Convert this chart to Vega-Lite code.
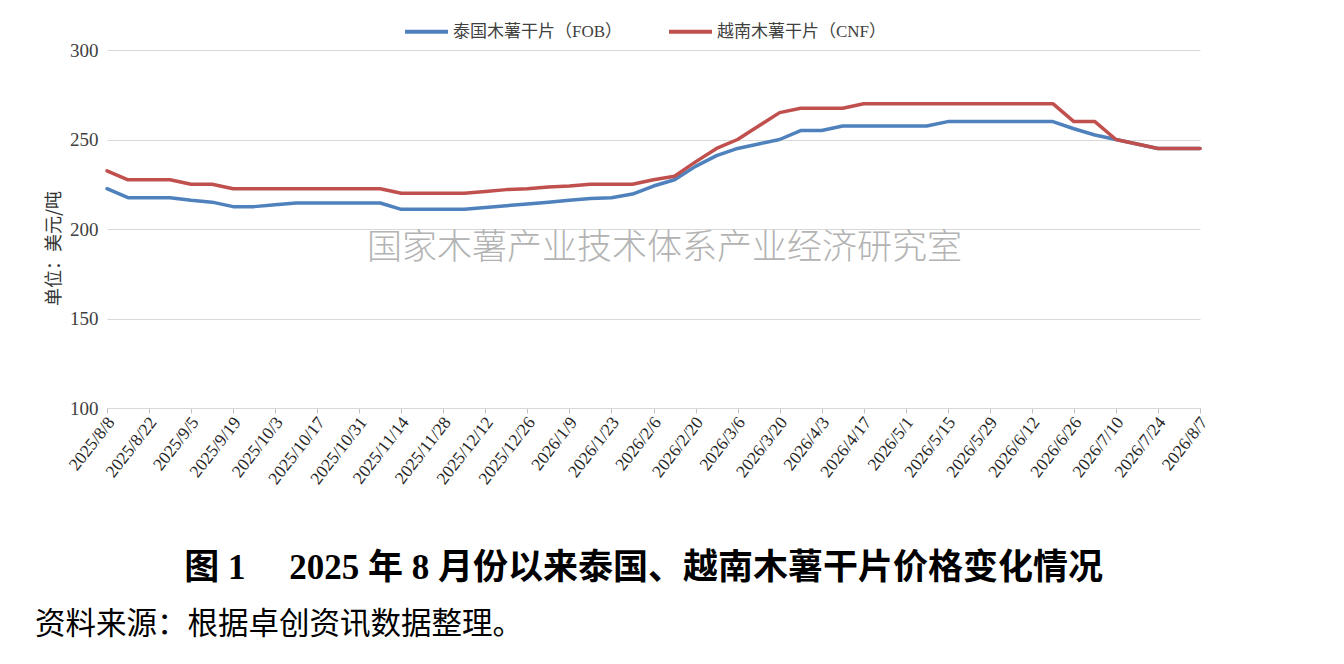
{
  "$schema": "https://vega.github.io/schema/vega-lite/v6.json",
  "width": 1093,
  "height": 358,
  "autosize": {"type": "none"},
  "padding": {"left": 107, "top": 50, "right": 144, "bottom": 256},
  "background": "white",
  "config": {
    "view": {"stroke": null},
    "font": "'Liberation Serif', 'Noto Sans CJK SC'"
  },
  "title": {
    "text": "资料来源：根据卓创资讯数据整理。",
    "orient": "bottom",
    "anchor": "start",
    "frame": "group",
    "dx": -72,
    "offset": 25,
    "baseline": "top",
    "font": "'Liberation Serif', 'Noto Sans CJK SC'",
    "fontSize": 30.5,
    "fontWeight": "normal",
    "color": "#000000"
  },
  "data": {
    "values": [
      {"date": "2025/8/8", "thai": 222.5, "vietnam": 232.5},
      {"date": "2025/8/15", "thai": 217.5, "vietnam": 227.5},
      {"date": "2025/8/22", "thai": 217.5, "vietnam": 227.5},
      {"date": "2025/8/29", "thai": 217.5, "vietnam": 227.5},
      {"date": "2025/9/5", "thai": 216, "vietnam": 225},
      {"date": "2025/9/12", "thai": 215, "vietnam": 225},
      {"date": "2025/9/19", "thai": 212.5, "vietnam": 222.5},
      {"date": "2025/9/26", "thai": 212.5, "vietnam": 222.5},
      {"date": "2025/10/3", "thai": 213.5, "vietnam": 222.5},
      {"date": "2025/10/10", "thai": 214.5, "vietnam": 222.5},
      {"date": "2025/10/17", "thai": 214.5, "vietnam": 222.5},
      {"date": "2025/10/24", "thai": 214.5, "vietnam": 222.5},
      {"date": "2025/10/31", "thai": 214.5, "vietnam": 222.5},
      {"date": "2025/11/7", "thai": 214.5, "vietnam": 222.5},
      {"date": "2025/11/14", "thai": 211, "vietnam": 220},
      {"date": "2025/11/21", "thai": 211, "vietnam": 220},
      {"date": "2025/11/28", "thai": 211, "vietnam": 220},
      {"date": "2025/12/5", "thai": 211, "vietnam": 220},
      {"date": "2025/12/12", "thai": 212, "vietnam": 221},
      {"date": "2025/12/19", "thai": 213, "vietnam": 222},
      {"date": "2025/12/26", "thai": 214, "vietnam": 222.5},
      {"date": "2026/1/2", "thai": 215, "vietnam": 223.5},
      {"date": "2026/1/9", "thai": 216, "vietnam": 224},
      {"date": "2026/1/16", "thai": 217, "vietnam": 225},
      {"date": "2026/1/23", "thai": 217.5, "vietnam": 225},
      {"date": "2026/1/30", "thai": 219.5, "vietnam": 225},
      {"date": "2026/2/6", "thai": 224, "vietnam": 227.5},
      {"date": "2026/2/13", "thai": 227.5, "vietnam": 229.5},
      {"date": "2026/2/20", "thai": 235, "vietnam": 237.5},
      {"date": "2026/2/27", "thai": 241, "vietnam": 245},
      {"date": "2026/3/6", "thai": 245, "vietnam": 250},
      {"date": "2026/3/13", "thai": 247.5, "vietnam": 257.5},
      {"date": "2026/3/20", "thai": 250, "vietnam": 265},
      {"date": "2026/3/27", "thai": 255, "vietnam": 267.5},
      {"date": "2026/4/3", "thai": 255, "vietnam": 267.5},
      {"date": "2026/4/10", "thai": 257.5, "vietnam": 267.5},
      {"date": "2026/4/17", "thai": 257.5, "vietnam": 270},
      {"date": "2026/4/24", "thai": 257.5, "vietnam": 270},
      {"date": "2026/5/1", "thai": 257.5, "vietnam": 270},
      {"date": "2026/5/8", "thai": 257.5, "vietnam": 270},
      {"date": "2026/5/15", "thai": 260, "vietnam": 270},
      {"date": "2026/5/22", "thai": 260, "vietnam": 270},
      {"date": "2026/5/29", "thai": 260, "vietnam": 270},
      {"date": "2026/6/5", "thai": 260, "vietnam": 270},
      {"date": "2026/6/12", "thai": 260, "vietnam": 270},
      {"date": "2026/6/19", "thai": 260, "vietnam": 270},
      {"date": "2026/6/26", "thai": 256, "vietnam": 260},
      {"date": "2026/7/3", "thai": 252.5, "vietnam": 260},
      {"date": "2026/7/10", "thai": 250, "vietnam": 250},
      {"date": "2026/7/17", "thai": 247.5, "vietnam": 247.5},
      {"date": "2026/7/24", "thai": 245, "vietnam": 245},
      {"date": "2026/7/31", "thai": 245, "vietnam": 245},
      {"date": "2026/8/7", "thai": 245, "vietnam": 245}
    ]
  },
  "layer": [
    {
      "transform": [{"fold": ["thai", "vietnam"], "as": ["series", "price"]}],
      "mark": {"type": "line", "strokeWidth": 3.5, "strokeJoin": "round", "strokeCap": "round"},
      "encoding": {
        "x": {
          "field": "date",
          "type": "ordinal",
          "sort": null,
          "scale": {"type": "point", "padding": 0},
          "axis": {
            "title": "图 1　 2025 年 8 月份以来泰国、越南木薯干片价格变化情况",
            "titleFont": "'Liberation Serif', 'Noto Sans CJK SC'",
            "titleFontSize": 35,
            "titleFontWeight": "bold",
            "titleColor": "#000000",
            "titleX": 536,
            "titleY": 159,
            "titleAlign": "center",
            "titleBaseline": "middle",
            "values": ["2025/8/8", "2025/8/22", "2025/9/5", "2025/9/19", "2025/10/3", "2025/10/17", "2025/10/31", "2025/11/14", "2025/11/28", "2025/12/12", "2025/12/26", "2026/1/9", "2026/1/23", "2026/2/6", "2026/2/20", "2026/3/6", "2026/3/20", "2026/4/3", "2026/4/17", "2026/5/1", "2026/5/15", "2026/5/29", "2026/6/12", "2026/6/26", "2026/7/10", "2026/7/24", "2026/8/7"],
            "labelAngle": -52,
            "labelAlign": "right",
            "labelBaseline": "middle",
            "labelFont": "'Liberation Serif'",
            "labelFontSize": 17.5,
            "labelColor": "#262626",
            "labelPadding": 6,
            "labelOffset": 4,
            "labelOverlap": false,
            "ticks": true,
            "tickSize": 5,
            "tickColor": "#bfbfbf",
            "domain": true,
            "domainColor": "#d9d9d9",
            "grid": false
          }
        },
        "y": {
          "field": "price",
          "type": "quantitative",
          "scale": {"domain": [100, 300], "nice": false, "zero": false},
          "axis": {
            "title": "单位：美元/吨",
            "titleFont": "Noto Sans CJK SC",
            "titleFontSize": 18,
            "titleFontWeight": "normal",
            "titleColor": "#333333",
            "titleAngle": -90,
            "titleX": -53,
            "titleY": 198,
            "titleAlign": "center",
            "titleBaseline": "middle",
            "values": [100, 150, 200, 250, 300],
            "labelFont": "'Liberation Serif'",
            "labelFontSize": 19,
            "labelColor": "#404040",
            "labelPadding": 9,
            "ticks": false,
            "domain": false,
            "grid": true,
            "gridColor": "#d9d9d9",
            "gridWidth": 1
          }
        },
        "color": {
          "field": "series",
          "type": "nominal",
          "scale": {"domain": ["thai", "vietnam"], "range": ["#4F81BD", "#C0504D"]},
          "legend": {
            "title": null,
            "orient": "none",
            "direction": "horizontal",
            "legendX": 296,
            "legendY": -42,
            "symbolType": "stroke",
            "symbolSize": 1849,
            "symbolStrokeWidth": 4,
            "labelOffset": 3,
            "labelLimit": 400,
            "columnPadding": 38,
            "labelFont": "'Liberation Serif', 'Noto Sans CJK SC'",
            "labelFontSize": 17,
            "labelColor": "#404040",
            "labelExpr": "datum.value == 'thai' ? '泰国木薯干片（FOB）' : '越南木薯干片（CNF）'"
          }
        }
      }
    },
    {
      "data": {"values": [{"note": "国家木薯产业技术体系产业经济研究室"}]},
      "mark": {
        "type": "text",
        "fontSize": 35,
        "font": "Noto Sans CJK SC",
        "fontWeight": 300,
        "color": "#b3b3b3",
        "align": "center",
        "baseline": "middle",
        "dx": 11
      },
      "encoding": {
        "x": {"datum": "2026/2/6", "type": "ordinal"},
        "y": {"datum": 189.5, "type": "quantitative"},
        "text": {"field": "note", "type": "nominal"}
      }
    }
  ]
}
